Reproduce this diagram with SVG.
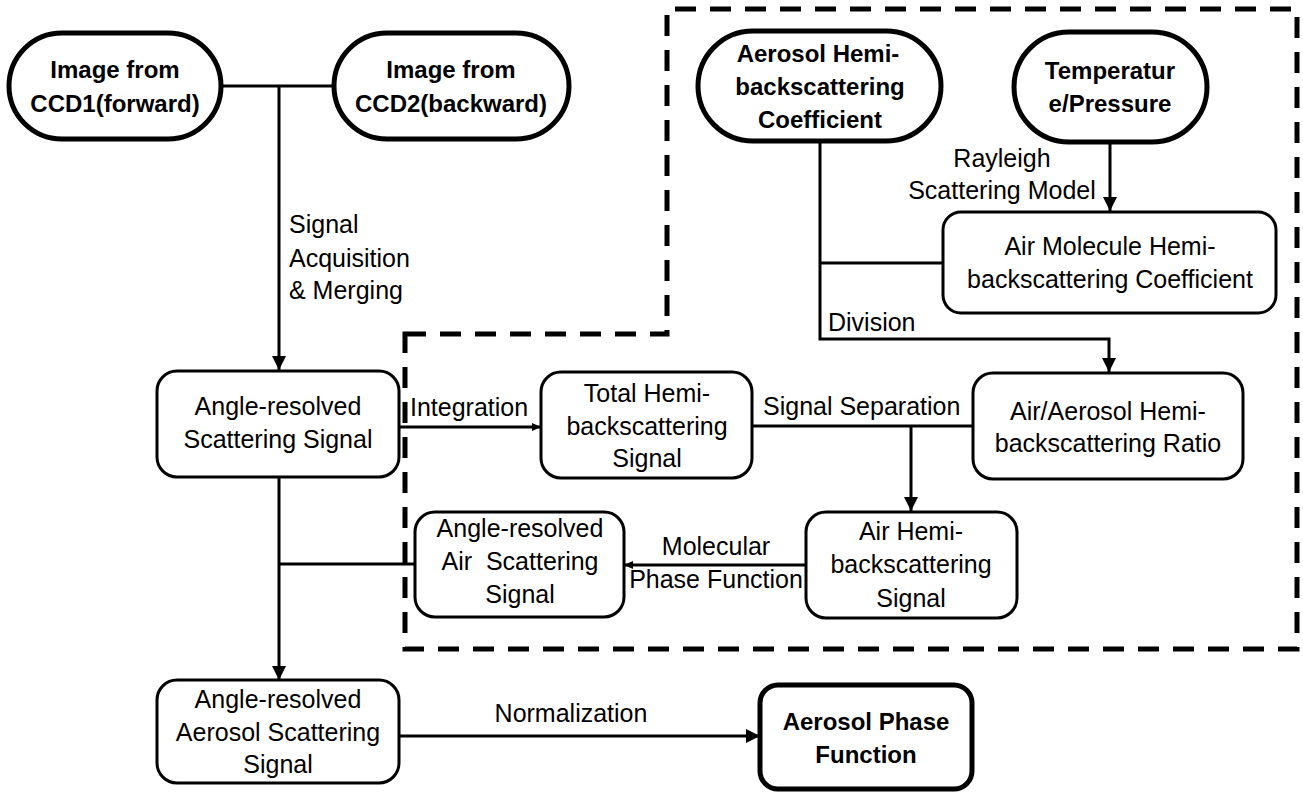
<svg xmlns="http://www.w3.org/2000/svg" width="1303" height="793" viewBox="0 0 1303 793">
<defs>
<marker id="arr" viewBox="0 0 14 14" refX="14" refY="7" markerWidth="14" markerHeight="14" markerUnits="userSpaceOnUse" orient="auto">
<path d="M0,0 L14,7 L0,14 Z" fill="#000"/>
</marker>
<marker id="arrs" viewBox="0 0 9 8" refX="9" refY="4" markerWidth="9" markerHeight="8" markerUnits="userSpaceOnUse" orient="auto">
<path d="M0,0 L9,4 L0,8 Z" fill="#000"/>
</marker>
</defs>
<style>
.t{font-family:"Liberation Sans",Arial,sans-serif;font-size:25px;fill:#000;}
.c{text-anchor:middle;}
.b{font-weight:bold;font-size:24px;}
.box{fill:#fff;stroke:#000;stroke-width:3;}
.heavy{fill:#fff;stroke:#000;stroke-width:5;}
.ln{fill:none;stroke:#000;stroke-width:3;}
.dash{fill:none;stroke:#000;stroke-width:5;stroke-dasharray:21 14;}
</style>
<rect width="1303" height="793" fill="#fff"/>
<g id="regions">
<path class="dash" d="M405,334 H667 V9 H1297 V649 H405 Z"/>
</g>
<g id="connectors">
<path class="ln" d="M221,86 H334"/>
<path class="ln" d="M279,86 V370" marker-end="url(#arr)"/>
<path class="ln" d="M820,141 V339 H1109 V372" marker-end="url(#arr)"/>
<path class="ln" d="M820,263 H943"/>
<path class="ln" d="M1110,142 V211" marker-end="url(#arr)"/>
<path class="ln" d="M399,427 H541" marker-end="url(#arrs)"/>
<path class="ln" d="M752,426 H973"/>
<path class="ln" d="M911,426 V511" marker-end="url(#arr)"/>
<path class="ln" d="M806,565 H624" marker-end="url(#arrs)"/>
<path class="ln" d="M279,477 V680" marker-end="url(#arr)"/>
<path class="ln" d="M279,564 H415"/>
<path class="ln" d="M399,736 H760" marker-end="url(#arr)"/>
<text class="t" x="289" y="233">Signal</text>
<text class="t" x="289" y="267">Acquisition</text>
<text class="t" x="289" y="299">&amp; Merging</text>
<text class="t c" x="1002" y="167">Rayleigh</text>
<text class="t c" x="1002" y="199">Scattering Model</text>
<text class="t" x="828" y="331">Division</text>
<text class="t" x="410" y="416">Integration</text>
<text class="t" x="763" y="415">Signal Separation</text>
<text class="t c" x="716" y="555">Molecular</text>
<text class="t c" x="716" y="588">Phase Function</text>
<text class="t c" x="571" y="722">Normalization</text>
</g>
<g id="ccd1">
<rect class="heavy" x="9" y="33" width="212" height="106" rx="53"/>
<text class="t b c" x="115" y="78">Image from</text>
<text class="t b c" x="115" y="112">CCD1(forward)</text>
</g>
<g id="ccd2">
<rect class="heavy" x="334" y="33" width="235" height="106" rx="53"/>
<text class="t b c" x="451" y="78">Image from</text>
<text class="t b c" x="451" y="112">CCD2(backward)</text>
</g>
<g id="aerosolCoef">
<rect class="heavy" x="698" y="31" width="243" height="110" rx="55"/>
<text class="t b c" x="818" y="62">Aerosol Hemi-</text>
<text class="t b c" x="820" y="95">backscattering</text>
<text class="t b c" x="820" y="128">Coefficient</text>
</g>
<g id="temperature">
<rect class="heavy" x="1014" y="32" width="193" height="110" rx="55"/>
<text class="t b c" x="1110" y="79">Temperatur</text>
<text class="t b c" x="1110" y="112">e/Pressure</text>
</g>
<g id="airMolCoef">
<rect class="box" x="943" y="212" width="333" height="101" rx="18"/>
<text class="t c" x="1110" y="255">Air Molecule Hemi-</text>
<text class="t c" x="1110" y="288">backscattering Coefficient</text>
</g>
<g id="angleScat">
<rect class="box" x="157" y="371" width="242" height="106" rx="20"/>
<text class="t c" x="278" y="415">Angle-resolved</text>
<text class="t c" x="278" y="448">Scattering Signal</text>
</g>
<g id="totalHemi">
<rect class="box" x="541" y="372" width="211" height="106" rx="20"/>
<text class="t c" x="647" y="402">Total Hemi-</text>
<text class="t c" x="647" y="435">backscattering</text>
<text class="t c" x="647" y="467">Signal</text>
</g>
<g id="ratio">
<rect class="box" x="973" y="373" width="270" height="106" rx="20"/>
<text class="t c" x="1108" y="420">Air/Aerosol Hemi-</text>
<text class="t c" x="1108" y="452">backscattering Ratio</text>
</g>
<g id="airHemi">
<rect class="box" x="806" y="512" width="211" height="106" rx="20"/>
<text class="t c" x="911" y="540">Air Hemi-</text>
<text class="t c" x="911" y="573">backscattering</text>
<text class="t c" x="911" y="607">Signal</text>
</g>
<g id="angleAir">
<rect class="box" x="415" y="512" width="209" height="105" rx="20"/>
<text class="t c" x="520" y="537">Angle-resolved</text>
<text class="t c" x="520" y="570" xml:space="preserve">Air  Scattering</text>
<text class="t c" x="520" y="603">Signal</text>
</g>
<g id="angleAerosol">
<rect class="box" x="157" y="680" width="242" height="103" rx="20"/>
<text class="t c" x="278" y="708">Angle-resolved</text>
<text class="t c" x="278" y="741">Aerosol Scattering</text>
<text class="t c" x="278" y="773">Signal</text>
</g>
<g id="phaseFunction">
<rect class="heavy" x="760" y="685" width="212" height="104" rx="18"/>
<text class="t b c" x="866" y="730">Aerosol Phase</text>
<text class="t b c" x="866" y="763">Function</text>
</g>
</svg>
